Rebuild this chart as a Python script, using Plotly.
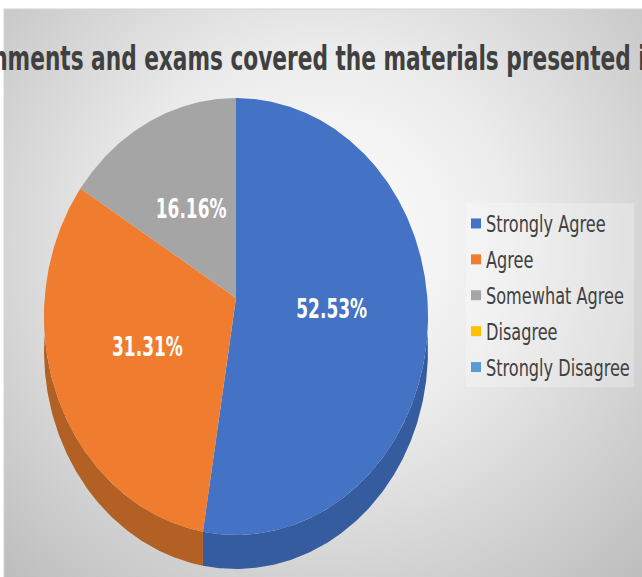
import math
import urllib.parse
import plotly.graph_objects as go

labels = ["Strongly Agree", "Agree", "Somewhat Agree", "Disagree", "Strongly Disagree"]
values = [52.53, 31.31, 16.16, 0, 0]
top_colors = ["#4472C4", "#F07D2F", "#A5A5A5", "#FFC000", "#5B9BD5"]
side_colors = ["#355C9E", "#B26024", "#7C7C7C", "#BF9000", "#4475A0"]
title_text = "Assignments and exams covered the materials presented in class"

W, H = 642, 577
CX, CY, BX, AY, K, DEPTH = 236, 298, 191.3, 216.9, 0.0847, 34
LABEL_DY = 5


def project(theta_deg, f=1.0):
    t = math.radians(theta_deg)
    u, v = f * math.sin(t), f * math.cos(t)
    w = 1 + K * v
    return CX + BX * u / w, CY - AY * v / w


def arc(a, b):
    n = max(2, int(abs(b - a)) * 2 + 1)
    return [project(a + (b - a) * i / (n - 1)) for i in range(n)]


total = sum(values)
spans, acc = [], 0.0
for val in values:
    spans.append((acc * 360 / total, (acc + val) * 360 / total))
    acc += val

fig = go.Figure()

# rim of the tilted pie
for (a, b), col in zip(spans, side_colors):
    lo, hi = max(a, 90), min(b, 270)
    if hi <= lo:
        continue
    pts = arc(lo, hi)
    xs = [p[0] for p in pts] + [p[0] for p in reversed(pts)]
    ys = [p[1] for p in pts] + [p[1] + DEPTH for p in reversed(pts)]
    fig.add_trace(go.Scatter(x=xs, y=ys, mode="lines", fill="toself", fillcolor=col,
                             line=dict(width=0, color=col), hoverinfo="skip", showlegend=False))

# top face
for (a, b), col, name, val in zip(spans, top_colors, labels, values):
    if b <= a:
        continue
    pts = [(CX, CY)] + arc(a, b) + [(CX, CY)]
    fig.add_trace(go.Scatter(x=[p[0] for p in pts], y=[p[1] for p in pts], mode="lines",
                             fill="toself", fillcolor=col, line=dict(width=0, color=col),
                             name=name, text=f"{val:.2f}%", hoverinfo="name+text", showlegend=False))

# legend entries
for name, col in zip(labels, top_colors):
    fig.add_trace(go.Scatter(x=[None], y=[None], mode="markers", name=name, legendgroup=name,
                             marker=dict(symbol="square", size=10, color=col)))

# percentage labels
lab = [(project((a + b) / 2, 0.5), f"{v:.2f}%") for (a, b), v in zip(spans, values) if v > 0]
fig.add_trace(go.Scatter(x=[p[0][0] for p in lab], y=[p[0][1] + LABEL_DY for p in lab], text=[p[1] for p in lab],
                         mode="text", showlegend=False, hoverinfo="skip",
                         textfont=dict(family="DejaVu Sans Condensed", size=27, color="white", weight="bold")))

svg = (f'<svg xmlns="http://www.w3.org/2000/svg" width="{W}" height="{H}">'
       '<defs><radialGradient id="g" gradientUnits="userSpaceOnUse" cx="323" cy="240" r="470">'
       '<stop offset="0" stop-color="#ffffff"/><stop offset="0.4" stop-color="#ececec"/>'
       '<stop offset="1" stop-color="#bcbcbc"/></radialGradient></defs>'
       f'<rect x="4" y="9" width="{W}" height="{H}" fill="url(#g)" stroke="#d4d4d4"/></svg>')

fig.update_layout(
    width=W, height=H, autosize=False, margin=dict(l=0, r=0, t=0, b=0, autoexpand=False),
    paper_bgcolor="white", plot_bgcolor="rgba(0,0,0,0)",
    xaxis=dict(range=[0, W], visible=False, fixedrange=True),
    yaxis=dict(range=[H, 0], visible=False, fixedrange=True),
    images=[dict(source="data:image/svg+xml," + urllib.parse.quote(svg), xref="paper", yref="paper",
                 x=0, y=1, sizex=1, sizey=1, xanchor="left", yanchor="top", sizing="stretch", layer="below")],
    shapes=[dict(type="rect", xref="x", yref="y", x0=466, x1=634, y0=203, y1=387,
                 fillcolor="rgba(255,255,255,0.25)", line=dict(width=0), layer="below")],
    annotations=[dict(text=title_text, xref="x", yref="y", x=328, y=58, showarrow=False,
                      font=dict(family="DejaVu Sans Condensed", size=33, color="#404040", weight="bold"))],
    legend=dict(xref="container", yref="container", x=456 / W, y=1 - 202 / H, xanchor="left", yanchor="top",
                bgcolor="rgba(0,0,0,0)", traceorder="grouped", tracegroupgap=3,
                itemclick=False, itemdoubleclick=False,
                font=dict(family="DejaVu Sans Condensed", size=23, color="#404040")),
)

post = """
document.body.style.margin='0';
function squeeze(t, sx, left){
  var b = t.getBBox();
  var ax = left ? b.x : b.x + b.width/2;
  var old = t.getAttribute('transform') || '';
  t.setAttribute('transform', old+' translate('+ax+' 0) scale('+sx+' 1) translate('+(-ax)+' 0)');
}
document.querySelectorAll('.legendtext').forEach(function(t){
  t.setAttribute('x', parseFloat(t.getAttribute('x'))-10);
  squeeze(t, 0.78, true);
});
document.querySelectorAll('.annotation-text').forEach(function(t){ squeeze(t, 0.73, false); });
document.querySelectorAll('.textpoint text').forEach(function(t){ squeeze(t, 0.70, false); });
"""
fig.write_html("out.html", post_script=post, config=dict(displayModeBar=False))
